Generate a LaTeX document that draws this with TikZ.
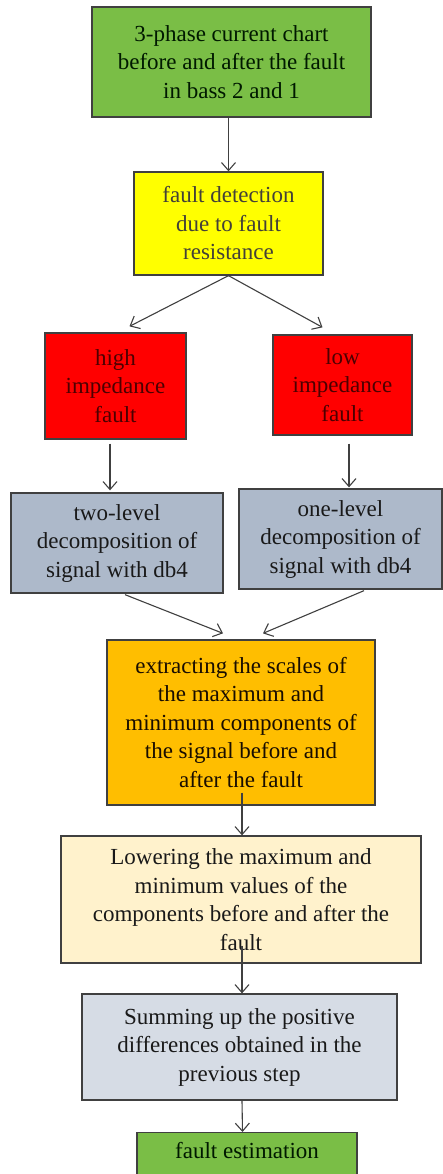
\documentclass[tikz,border=0pt]{standalone}
\usepackage{fontspec}
\setmainfont{Liberation Serif}
\usetikzlibrary{arrows.meta}
\definecolor{cgreen}{RGB}{122,190,70}
\definecolor{cyellow}{RGB}{255,255,0}
\definecolor{cred}{RGB}{255,0,0}
\definecolor{cgray}{RGB}{173,185,202}
\definecolor{corange}{RGB}{255,190,0}
\definecolor{clight}{RGB}{255,242,204}
\definecolor{cpale}{RGB}{214,220,229}
\definecolor{cborder}{RGB}{64,64,64}
\begin{document}
\begin{tikzpicture}[x=1pt,y=-1pt,
  box/.style={draw=cborder,line width=1.3pt,rectangle,align=center,inner sep=0pt,
    font=\fontsize{23}{28.5}\selectfont},
  arr/.style={draw=cborder,line width=1.1pt,-{Straight Barb[length=8pt,width=14pt,line width=1.1pt]}}]
\useasboundingbox (0,0) rectangle (443,1174);
\fill[white] (0,0) rectangle (443,1174);
\node[box,fill=cgreen,text=green!10!black,minimum width=279pt,minimum height=110pt] (n1) at (231.5,62)
  {3-phase current chart\\before and after the fault\\in bass 2 and 1};
\node[box,fill=cyellow,text=yellow!15!black,minimum width=189pt,minimum height=103pt] (n2) at (228.5,223.5)
  {fault detection\\due to fault\\resistance};
\node[box,fill=cred,text=red!30!black,minimum width=141pt,minimum height=106pt] (n3) at (115.5,386)
  {high\\impedance\\fault};
\node[box,fill=cred,text=red!30!black,minimum width=139pt,minimum height=100pt] (n4) at (342.5,385)
  {low\\impedance\\fault};
\node[box,fill=cgray,text=black!90,minimum width=212pt,minimum height=100pt] (n5) at (117,543)
  {two-level\\decomposition of\\signal with db4};
\node[box,fill=cgray,text=black!90,minimum width=203pt,minimum height=100pt] (n6) at (340.5,539)
  {one-level\\decomposition of\\signal with db4};
\node[box,fill=corange,text=orange!10!black,minimum width=268pt,minimum height=165pt] (n7) at (241,722.5)
  {extracting the scales of\\the maximum and\\minimum components of\\the signal before and\\after the fault};
\node[box,fill=clight,text=black!90,minimum width=360pt,minimum height=127pt] (n8) at (241,899.5)
  {Lowering the maximum and\\minimum values of the\\components before and after the\\fault};
\node[box,fill=cpale,text=black!90,minimum width=315pt,minimum height=106pt] (n9) at (239.5,1047)
  {Summing up the positive\\differences obtained in the\\previous step};
\node[box,fill=cgreen,text=green!10!black,minimum width=220pt,anchor=north,
  inner ysep=11pt,text height=15pt,text depth=30pt] (n10) at (247,1132)
  {fault estimation};
\draw[arr] (n1.south -| n2.north) -- (n2.north);
\draw[arr] (n2.south) -- ([xshift=14pt,yshift=6pt]n3.north);
\draw[arr] (n2.south) -- ([xshift=-20pt,yshift=7pt]n4.north);
\draw[arr] ([xshift=-5.5pt,yshift=-4pt]n3.south) -- ([xshift=-7pt,yshift=2pt]n5.north);
\draw[arr] ([xshift=6.5pt,yshift=-8pt]n4.south) -- ([xshift=8.5pt,yshift=1pt]n6.north);
\draw[arr] ([xshift=8pt,yshift=-1pt]n5.south) -- ([xshift=-18pt,yshift=6pt]n7.north);
\draw[arr] ([xshift=23.5pt,yshift=-1pt]n6.south) -- ([xshift=22pt,yshift=6pt]n7.north);
\draw[arr] ([xshift=1pt,yshift=13pt]n7.south) -- ([xshift=1pt]n8.north);
\draw[arr] ([xshift=1pt,yshift=18pt]n8.south) -- ([xshift=2.5pt]n9.north);
\draw[arr] ([xshift=2.5pt]n9.south) -- ([xshift=-4.5pt]n10.north);
\end{tikzpicture}
\end{document}
